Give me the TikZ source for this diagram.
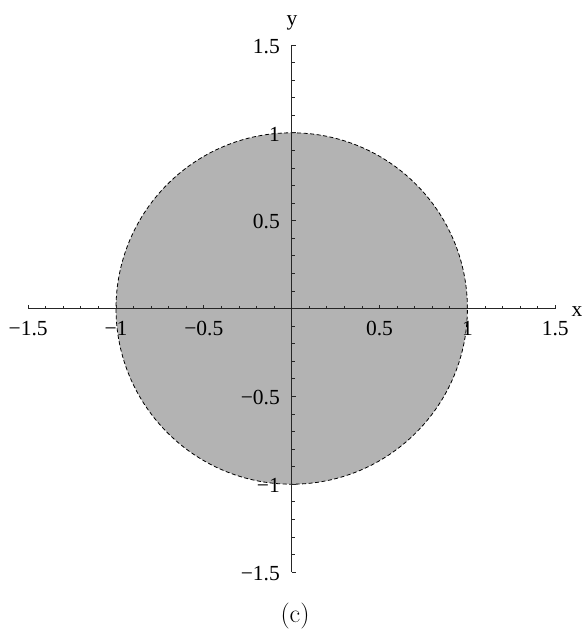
\documentclass[tikz,border=0pt]{standalone}
\usepackage{fontspec}
\newfontfamily\tms{Liberation Serif}
\definecolor{disc}{RGB}{179,179,179}
\begin{document}
\begin{tikzpicture}[x=1pt,y=-1pt,
  axisline/.style={line width=1pt,black!85},
  tickline/.style={line width=0.8pt,black!85},
  lbl/.style={font=\tms\fontsize{21.5}{24}\selectfont,inner sep=0pt},
  bound/.style={dash pattern=on 4pt off 2.5pt,line width=0.8pt,black}]
\useasboundingbox (0,0) rectangle (583,631);
\def\ox{291.7}\def\oy{308.5}\def\u{175.7}
\coordinate (O) at (\ox,\oy);
\fill[disc] (O) circle (175.7pt);
\draw[bound] (O) circle (175.7pt);
\coordinate (xL) at (28.15,\oy);
\coordinate (xR) at (555.25,\oy);
\coordinate (yT) at (\ox,44.95);
\coordinate (yB) at (\ox,572.05);
\draw[axisline] (xL) -- (xR);
\draw[axisline] (yT) -- (yB);
\foreach \i in {-15,...,15}{
  \pgfmathsetmacro\tl{mod(\i,5)==0 ? 4 : 3}
  \pgfmathsetmacro\tx{\ox+\i*\u/10}
  \pgfmathsetmacro\ty{\oy-\i*\u/10}
  \draw[tickline] (\tx,\oy) -- ++(0,-\tl);
  \draw[tickline] (\ox,\ty) -- ++(\tl,0);
}
\foreach \v/\t/\n in {-1.5/−1.5/a,-1/−1/b,-0.5/−0.5/c,0.5/0.5/d,1/1/e,1.5/1.5/f}{
  \pgfmathsetmacro\tx{\ox+\v*\u}
  \pgfmathsetmacro\ty{\oy-\v*\u}
  \node[lbl,anchor=base] (xl\n) at (\tx,335) {\t};
  \node[lbl,anchor=base east] (yl\n) at (280,\ty+8.3) {\t};
}
\node[lbl,anchor=base] (xname) at (577,316) {x};
\node[lbl,anchor=base] (yname) at (292,26) {y};
\node[font=\fontsize{26}{30}\selectfont,inner sep=0pt,anchor=base] (cap) at (295,622) {(c)};
\end{tikzpicture}
\end{document}
